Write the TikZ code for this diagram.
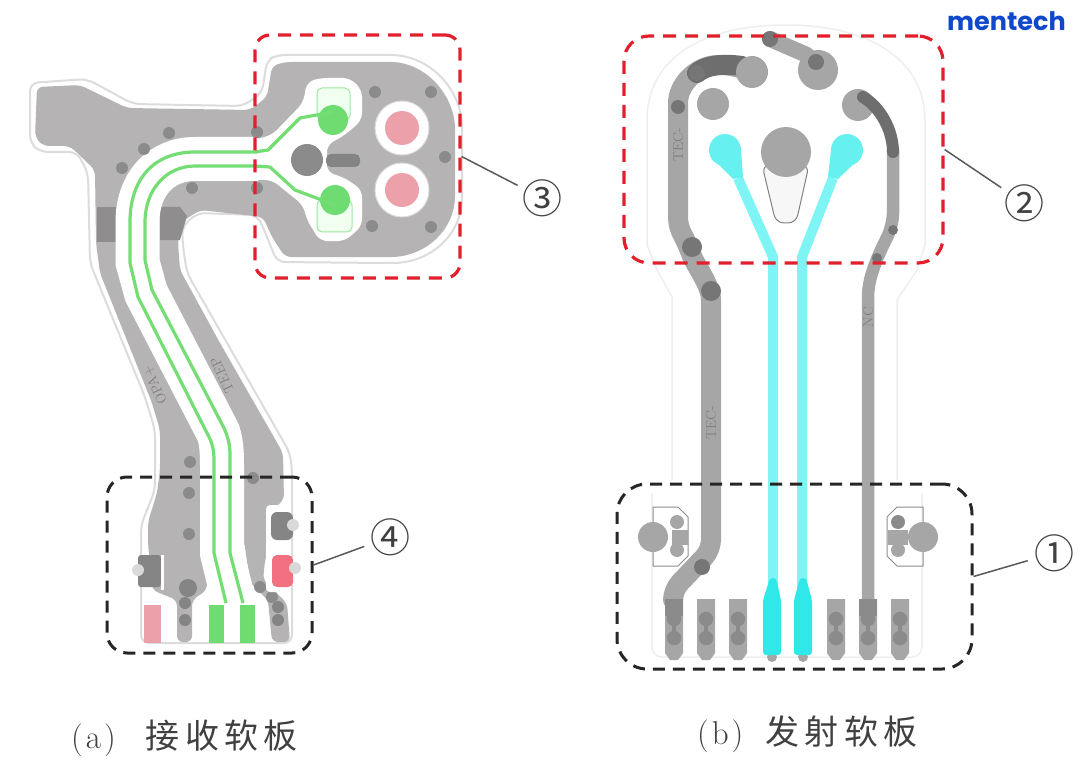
\documentclass[tikz,border=0pt]{standalone}
\usepackage{fontspec}
\usetikzlibrary{shapes.geometric}
\newfontfamily\cjk[LetterSpace=16]{Noto Sans CJK SC}
\newfontfamily\numfont{Noto Sans CJK SC}
\newfontfamily\logofont{Poppins}
\definecolor{boardgray}{HTML}{B5B3B4}
\definecolor{stripgray}{HTML}{8F8D8E}
\definecolor{viagray}{HTML}{8B8B8B}
\definecolor{halogray}{HTML}{DCDCDC}
\definecolor{faintgray}{HTML}{EEEEEE}
\definecolor{tracegray}{HTML}{A6A6A6}
\definecolor{darktrace}{HTML}{6E6E6E}
\definecolor{tracegreen}{HTML}{74DE74}
\definecolor{padgreen}{HTML}{6EDC70}
\definecolor{tracecyan}{HTML}{7FF4F4}
\definecolor{padcyan}{HTML}{30E8E8}
\definecolor{softred}{HTML}{EBA0AA}
\definecolor{hotred}{HTML}{F2707F}
\definecolor{boxred}{HTML}{E0202C}
\definecolor{logoblue}{HTML}{1048CC}
\tikzstyle{redbox} = [rectangle, draw=boxred, line width=3.2pt, dash pattern=on 13pt off 9pt]
\tikzstyle{blackbox} = [rectangle, draw=black!85, line width=3pt, dash pattern=on 12pt off 8pt]
\tikzstyle{num} = [circle, minimum size=42pt, inner sep=0pt, text=black!75, font=\numfont\fontsize{40}{40}\selectfont]
\tikzstyle{caption} = [anchor=west, inner sep=0pt, text=black!75, font=\fontsize{33}{36}\selectfont]
\tikzstyle{tracetext} = [inner sep=0pt, text=black!50, font=\fontsize{14}{14}\selectfont]
\tikzstyle{leader} = [line width=1.5pt, draw=black!65]
\tikzstyle{greenline} = [line width=3.2pt, draw=tracegreen]
\tikzstyle{cyanline} = [line width=10pt, draw=tracecyan]
\tikzstyle{grayline} = [draw=tracegray, line cap=round, line join=round]
\begin{document}
\begin{tikzpicture}[x=1pt,y=-1pt]
\useasboundingbox (0,0) rectangle (1080,773);

% receiver board
\draw[draw=halogray, line width=2pt, fill=white, rounded corners=8pt]
  (30,83) -- (87,79) -- (133,104) -- (243,106) -- (262,93) -- (267,60) -- (277,55) -- (383,55)
  .. controls (430,55) and (462,90) .. (462,135) -- (462,190) .. controls (462,235) and (430,263) .. (385,263)
  -- (277,262) -- (263,227) -- (257,215) -- (197,213) -- (182,227) -- (183,247) -- (187,273) -- (290,453)
  -- (292,470) -- (292,643) -- (141,643) -- (141,525) -- (155,490) -- (155,430) -- (145,397) -- (90,263)
  -- (88,173) -- (77,152) -- (40,152) -- (30,143) -- cycle;
\fill[boardgray, rounded corners=6pt]
  (37,87) -- (80,85) -- (127,108) -- (250,110) -- (267,97) -- (272,66) -- (285,62) -- (385,62)
  .. controls (425,62) and (455,95) .. (455,135) -- (455,190) .. controls (455,230) and (425,257) .. (385,257)
  -- (285,257) -- (272,237) -- (263,217) -- (200,210) -- (180,223) -- (178,243) -- (180,270) -- (220,343)
  -- (283,453) -- (284,500) -- (268,513) -- (265,533) -- (270,544) -- (265,560) -- (263,580) -- (287,603)
  -- (290,642) -- (272,642) -- (268,600) -- (250,583) -- (244,540) -- (222,540) -- (202,553) -- (207,580)
  -- (207,590) -- (192,600) -- (192,642) -- (177,642) -- (177,600) -- (152,590) -- (148,543) -- (148,522)
  -- (157,493) -- (160,470) -- (160,430) -- (152,403) -- (100,273) -- (96,243) -- (95,170) -- (70,146)
  -- (43,146) -- (35,137) -- cycle;
\fill[stripgray] (97,207) rectangle (116,242);
\fill[stripgray] (160,207) -- (180,207) -- (187,216) -- (180,240) -- (160,240) -- cycle;

% white corridor round the traces
\draw[white, line width=44pt]
  (258,159) -- (195,159) .. controls (160,159) and (137.5,185) .. (137.5,222) -- (137.5,262) -- (146,293) -- (218,432)
  .. controls (221,440) and (222,450) .. (222,465) -- (222,553) -- (234,603) -- (234,641);
\fill[white, rounded corners=7pt]
  (250,141) -- (272,135) -- (303,103) -- (307,82) -- (320,78) -- (350,78) -- (362,90) -- (362,120) -- (345,135)
  -- (327,145) -- (327,172) -- (345,178) -- (362,190) -- (362,226) -- (345,241) -- (320,241) -- (307,220)
  -- (303,205) -- (272,180) -- (250,180) -- cycle;
\draw[draw=halogray, line width=1pt, fill=white] (402,128) circle (27);
\draw[draw=halogray, line width=1pt, fill=white] (402,190) circle (27);
\fill[softred] (402,128) circle (17);
\fill[softred] (402,190) circle (17);
\foreach \x/\y in {169/133,144/149,122/168,192/188,257/132,257/188,375/92,431/92,445/157,372/226,431/227,190/462,189/493,189/534,253/478,260/587,272/597}
  \fill[viagray] (\x,\y) circle (6);
\fill[viagray] (307,160) circle (16);
\fill[darktrace!85, rounded corners=5pt] (326,154) rectangle (360,167);
\node[tracetext, rotate=115] (textOpa) at (155,385) {OPA+};
\node[tracetext, rotate=115] (textTeep) at (222,375) {TEEP};

% pads on the head
\draw[draw=tracegreen!70, line width=1pt, fill=green!6, rounded corners=5pt] (317,88) rectangle (350,120);
\draw[draw=tracegreen!70, line width=1pt, fill=green!6, rounded corners=5pt] (317,200) rectangle (352,232);
\fill[padgreen] (333,120) circle (15);
\fill[padgreen] (335,200) circle (15);
\draw[greenline]
  (257,152) -- (195,152) .. controls (153,152) and (130,180) .. (130,222) -- (130,263) -- (138,297) -- (208,435)
  .. controls (212,442) and (214,450) .. (214,460) -- (214,553) -- (226,603);
\draw[greenline]
  (257,166) -- (195,166) .. controls (166,166) and (145,190) .. (145,222) -- (145,260) -- (152,290) -- (224,428)
  .. controls (228,437) and (230,445) .. (230,455) -- (230,553) -- (243,603);
\draw[greenline] (255,152) -- (268,150) -- (300,118) -- (333,112);
\draw[greenline] (255,166) -- (270,167) -- (295,190) -- (335,205);

% pads at the tail
\fill[softred] (144,605) rectangle (161,643);
\fill[padgreen] (209,605) rectangle (224,643);
\fill[padgreen] (240,605) rectangle (255,643);
\fill[white, rounded corners=4pt] (266,505) rectangle (291,592);
\fill[darktrace!85, rounded corners=6pt] (271,512) rectangle (293,540);
\fill[hotred, rounded corners=5pt] (272,555) rectangle (293,587);
\fill[darktrace!85, rounded corners=3pt] (138,555) rectangle (161,587);
\fill[white] (161,555) rectangle (164,590);
\fill[black!15] (293,525) circle (6);
\fill[black!15] (295,568) circle (6);
\fill[black!15] (138,570) circle (6);
\fill[darktrace!85] (188,588) circle (9);
\fill[darktrace!85] (185,603) circle (6);
\fill[darktrace!85] (185,620) circle (6);
\fill[darktrace!85] (278,607) circle (6);
\fill[darktrace!85] (278,620) circle (6);

% emitter board
\draw[draw=faintgray, line width=1.5pt]
  (672,480) -- (672,297) -- (657,270) -- (647,245) -- (647,120) .. controls (647,60) and (700,25) .. (786,25)
  .. controls (870,25) and (925,60) .. (925,120) -- (925,245) -- (917,270) -- (897,300) -- (897,480);
\draw[draw=faintgray, line width=1.5pt, rounded corners=10pt] (652,493) -- (652,657) -- (922,657) -- (922,493);

% gray traces
\draw[grayline, line width=20pt, rounded corners=10pt]
  (673,600) -- (673,590) -- (711,550) -- (711,310) .. controls (711,285) and (695,265) .. (688,245)
  .. controls (680,230) and (678,225) .. (678,205) -- (678,113) .. controls (678,85) and (695,68) .. (723,64) -- (748,70);
\draw[draw=darktrace, line width=20pt, line cap=round] (697,73) .. controls (705,66) and (720,63) .. (742,66);
\fill[tracegray] (752,72) circle (16);
\fill[tracegray] (713,104) circle (16);
\draw[grayline, line width=16pt] (770,39) -- (807,55) -- (818,70);
\fill[tracegray] (818,70) circle (20);
\fill[tracegray] (858,105) circle (16);
\draw[grayline, line width=12.5pt, rounded corners=12pt] (893,150) -- (893,225) -- (877,258) -- (868,285) -- (868,610);
\draw[draw=darktrace, line width=12pt, line cap=round] (863,97) .. controls (880,107) and (893,130) .. (893,152);
\foreach \x/\y/\r in {697/73/8,678/107/7,692/247/10,711/291/10,702/567/8,770/39/8,893/230/5,877/258/5,816/62/8}
  \fill[viagray!85!black] (\x,\y) circle (\r);
\node[tracetext, rotate=90] (textTecA) at (711,423) {TEC-};
\node[tracetext, rotate=90] (textTecB) at (678,145) {TEC-};
\node[tracetext, rotate=90] (textNc) at (868,317) {NC};

% center lens and cyan traces
\draw[draw=black!50, line width=1pt, fill=black!3, rounded corners=8pt] (762,165) -- (776,223) -- (796,223) -- (809,165) -- cycle;
\fill[tracegray] (786,152) circle (25);
\draw[cyanline] (738,178) -- (773,257) -- (773,600);
\draw[cyanline] (833,178) -- (802,257) -- (802,600);
\fill[tracecyan!70!padcyan] (725,150) circle (16);
\fill[tracecyan!70!padcyan] (847,150) circle (16);
\fill[tracecyan!70!padcyan] (710,156) -- (733,179) -- (743,177) -- (741,150) -- cycle;
\fill[tracecyan!70!padcyan] (862,156) -- (838,179) -- (828,177) -- (831,150) -- cycle;

% tail pads
\foreach \x in {674,706,738,836,868,900} {
  \fill[tracegray] (\x-9,599) -- (\x+9,599) -- (\x+9,653) -- (\x+4,660) -- (\x-4,660) -- (\x-9,653) -- cycle;
  \draw[draw=viagray, line width=4pt] (\x,619) -- (\x,638);
  \draw[draw=darktrace!80, line width=2.5pt, fill=viagray] (\x,619) circle (6);
  \draw[draw=darktrace!80, line width=2.5pt, fill=viagray] (\x,638) circle (6);
}
\fill[viagray] (665,599) rectangle (683,616);
\fill[viagray] (859,599) rectangle (877,616);
\fill[tracegray] (772,657) circle (5);
\fill[tracegray] (803,657) circle (5);
\fill[padcyan, rounded corners=3pt] (770,578) -- (776,578) -- (781,600) -- (781,655) -- (763,655) -- (763,600) -- cycle;
\fill[padcyan, rounded corners=3pt] (800,578) -- (806,578) -- (812,600) -- (812,655) -- (794,655) -- (794,600) -- cycle;

% side components
\draw[draw=black!45, line width=1pt] (653,507) -- (678,507) -- (688,517) -- (688,556) -- (678,566) -- (653,566) -- cycle;
\draw[draw=black!45, line width=1pt] (923,507) -- (897,507) -- (887,517) -- (887,556) -- (897,566) -- (923,566) -- cycle;
\fill[tracegray] (653,537) circle (15);
\fill[tracegray] (923,537) circle (15);
\fill[tracegray] (677,522) circle (7);
\fill[tracegray] (677,550) circle (7);
\fill[tracegray] (672,530) rectangle (688,545);
\fill[viagray] (898,522) circle (7);
\fill[tracegray] (898,550) circle (7);
\fill[tracegray] (888,530) rectangle (908,545);

% boxes, numbers and captions
\node[redbox, rounded corners=15pt, minimum width=205pt, minimum height=243pt] (roiThree) at (357.5,156.5) {};
\node[redbox, rounded corners=25pt, minimum width=319pt, minimum height=227pt] (roiTwo) at (783.5,149.5) {};
\node[blackbox, rounded corners=20pt, minimum width=205pt, minimum height=176pt] (roiFour) at (209.5,565) {};
\node[blackbox, rounded corners=30pt, minimum width=355pt, minimum height=185pt] (roiOne) at (794.5,576.5) {};
\node[num] (numThree) at (542,198) {③};
\node[num] (numTwo) at (1024,203) {②};
\node[num] (numFour) at (390,537) {④};
\node[num] (numOne) at (1054,553) {①};
\draw[leader] (roiThree.east) -- (numThree);
\draw[leader] (roiTwo.east) -- (numTwo);
\draw[leader] (roiFour.east) -- (numFour);
\draw[leader] (roiOne.east) -- (numOne);
\node[caption] (capA) at (71,738) {(\kern3pt a\kern3pt)\hspace{30pt}{\fontsize{34}{36}\selectfont\cjk 接收软板}};
\node[caption] (capB) at (697,734) {(\kern3pt b\kern3pt)\hspace{22pt}{\fontsize{34}{36}\selectfont\cjk 发射软板}};
\node[anchor=east, text=logoblue, inner sep=0pt, font=\logofont\bfseries\fontsize{25.5}{30}\selectfont] (logo) at (1066,21) {mentech};
\end{tikzpicture}
\end{document}
